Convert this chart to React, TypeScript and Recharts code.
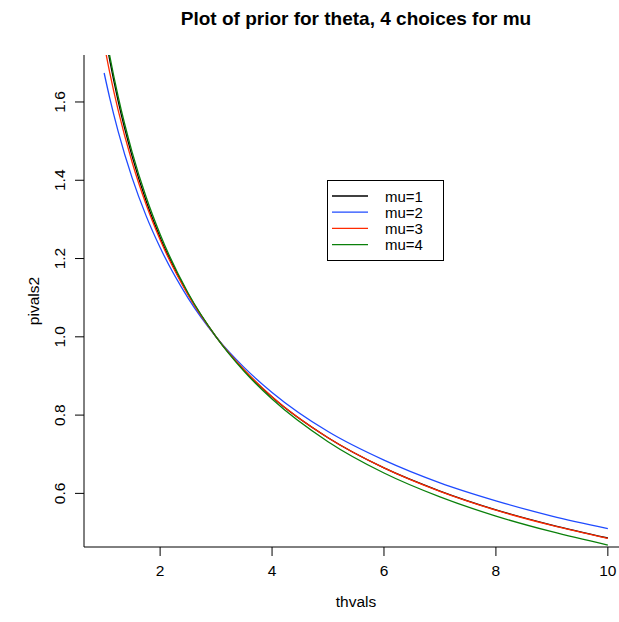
import React from "react";
import { LineChart, Line, XAxis, YAxis, Legend } from "recharts";

// values
const thvals = [1, 1.1, 1.25, 1.5, 1.75, 2, 2.5, 3, 3.5, 4, 5, 6, 7, 8, 9, 10];
const mu1 = [1.786, 1.706, 1.602, 1.461, 1.347, 1.254, 1.109, 1, 0.915, 0.846, 0.742, 0.665, 0.606, 0.558, 0.519, 0.486];
const mu2 = [1.674, 1.61, 1.525, 1.406, 1.309, 1.228, 1.099, 1, 0.922, 0.858, 0.758, 0.685, 0.627, 0.581, 0.542, 0.51];
const mu3 = [1.748, 1.675, 1.579, 1.446, 1.338, 1.248, 1.107, 1, 0.916, 0.847, 0.742, 0.665, 0.605, 0.557, 0.518, 0.485];
const mu4 = [1.796, 1.718, 1.614, 1.472, 1.357, 1.262, 1.112, 1, 0.912, 0.841, 0.732, 0.652, 0.591, 0.542, 0.502, 0.468];

const xTicks = [2, 4, 6, 8, 10];
const yTicks = [0.6, 0.8, 1.0, 1.2, 1.4, 1.6];

const series = [
  { key: "mu1", name: "mu=1", color: "#000000" },
  { key: "mu2", name: "mu=2", color: "#1f4bff" },
  { key: "mu3", name: "mu=3", color: "#ff2a00" },
  { key: "mu4", name: "mu=4", color: "#0a800a" },
];

const rows = thvals.map((x, i) => ({
  x,
  mu1: mu1[i],
  mu2: mu2[i],
  mu3: mu3[i],
  mu4: mu4[i],
}));

const FONT = "'Liberation Sans', Arial, Helvetica, sans-serif";

const XTick = ({ x, y, payload }: any) => (
  <text x={x} y={y + 14} textAnchor="middle" dominantBaseline="central" fontSize={15.5} fontFamily={FONT} fill="#000">
    {payload.value}
  </text>
);

const YTick = ({ x, y, payload }: any) => (
  <text
    x={x - 15}
    y={y}
    textAnchor="middle"
    dominantBaseline="central"
    fontSize={15.5}
    fontFamily={FONT}
    fill="#000"
    transform={`rotate(-90, ${x - 15}, ${y})`}
  >
    {Number(payload.value).toFixed(1)}
  </text>
);

const LegendBox = ({ payload }: any) => (
  <svg width={118} height={82}>
    <rect x={0.5} y={0.5} width={116} height={80} fill="#fff" stroke="#000" strokeWidth={1} />
    {(payload || []).map((p: any, i: number) => (
      <g key={p.value}>
        <line x1={5} x2={41} y1={16 + i * 16.2} y2={16 + i * 16.2} stroke={p.color} strokeWidth={1.3} />
        <text x={58} y={16 + i * 16.2} dominantBaseline="central" fontSize={15} fontFamily={FONT} fill="#000">
          {p.value}
        </text>
      </g>
    ))}
  </svg>
);

export default function App() {
  return (
    <div style={{ position: "absolute", left: 0, top: 0, width: 619, height: 622, overflow: "hidden", background: "#fff" }}>
      <div
        style={{
          position: "absolute",
          left: 84,
          width: 544,
          top: 8,
          textAlign: "center",
          fontFamily: FONT,
          fontWeight: "bold",
          fontSize: 19,
          lineHeight: "22px",
          color: "#000",
        }}
      >
        Plot of prior for theta, 4 choices for mu
      </div>
      <LineChart width={628} height={622} data={rows} margin={{ top: 55, right: 0, bottom: 0, left: 0 }}>
        <XAxis
          dataKey="x"
          type="number"
          domain={[0.64, 10.36]}
          ticks={xTicks}
          allowDataOverflow
          height={75}
          tickSize={9}
          tickMargin={0}
          axisLine={{ stroke: "#000", strokeWidth: 1 }}
          tickLine={{ stroke: "#000", strokeWidth: 1 }}
          tick={<XTick />}
          label={{
            content: ({ viewBox }: any) => (
              <text x={viewBox.x + viewBox.width / 2} y={601} textAnchor="middle" dominantBaseline="central" fontSize={15.5} fontFamily={FONT} fill="#000">
                thvals
              </text>
            ),
          }}
        />
        <XAxis
          xAxisId="top"
          dataKey="x"
          type="number"
          orientation="top"
          domain={[0.64, 10.36]}
          height={0}
          tick={false}
          tickLine={false}
          axisLine={{ stroke: "#000", strokeWidth: 1 }}
        />
        <YAxis
          type="number"
          domain={[0.463, 1.72]}
          ticks={yTicks}
          allowDataOverflow
          width={84}
          tickSize={9}
          tickMargin={0}
          axisLine={{ stroke: "#000", strokeWidth: 1 }}
          tickLine={{ stroke: "#000", strokeWidth: 1 }}
          tick={<YTick />}
          label={{
            content: ({ viewBox }: any) => {
              const cy = viewBox.y + viewBox.height / 2;
              return (
                <text x={33} y={cy} textAnchor="middle" dominantBaseline="central" fontSize={15.5} fontFamily={FONT} fill="#000" transform={`rotate(-90, 33, ${cy})`}>
                  pivals2
                </text>
              );
            },
          }}
        />
        <Legend
          layout="horizontal"
          verticalAlign="middle"
          align="center"
          content={<LegendBox />}
          wrapperStyle={{ left: 327, top: 180, width: 118, height: 82 }}
        />
        {series.map((s) => (
          <Line
            key={s.key}
            dataKey={s.key}
            name={s.name}
            type="monotone"
            stroke={s.color}
            strokeWidth={1.3}
            dot={false}
            activeDot={false}
            isAnimationActive={false}
          />
        ))}
      </LineChart>
    </div>
  );
}
